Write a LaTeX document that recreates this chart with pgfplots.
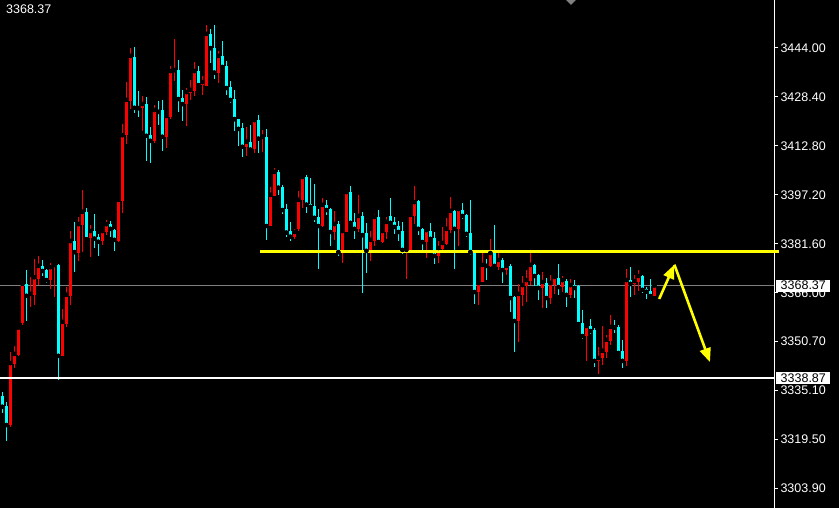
\documentclass[border=0pt]{standalone}
\usepackage{fontspec}
\setmainfont{Liberation Sans}
\usepackage{pgfplots}
\pgfplotsset{compat=1.18}
\usepackage{pgfplotstable}
\usetikzlibrary{arrows.meta}

% bullish candles (red): index open high low close
\pgfplotstableread{
i O H L C
2 3324.0 3347.2 3323.5 3343.7
3 3343.5 3349.1 3342.1 3346.6
4 3346.3 3355.5 3346.0 3355.0
5 3356.4 3369.6 3355.8 3368.9
7 3365.1 3371.0 3361.6 3365.7
8 3365.4 3376.7 3362.2 3371.0
9 3370.5 3377.8 3368.5 3374.6
12 3370.1 3375.4 3367.2 3374.2
13 3374.4 3375.6 3364.8 3374.9
15 3346.0 3360.8 3346.0 3356.8
16 3356.1 3367.8 3355.3 3365.4
17 3365.1 3385.6 3362.2 3382.5
19 3378.8 3390.1 3376.3 3387.9
20 3387.6 3398.8 3379.1 3391.8
22 3383.6 3387.6 3377.5 3385.7
25 3382.6 3386.0 3381.3 3385.7
26 3385.3 3389.2 3384.4 3387.9
29 3382.6 3395.9 3382.3 3395.6
30 3395.3 3419.7 3391.3 3416.2
31 3416.2 3433.1 3413.4 3427.4
32 3427.1 3443.9 3424.4 3441.4
35 3424.9 3428.6 3417.6 3426.1
38 3414.4 3425.8 3413.8 3424.2
41 3415.7 3422.8 3412.2 3422.3
42 3422.1 3438.2 3421.3 3436.6
43 3436.3 3446.8 3433.4 3436.9
46 3426.1 3431.1 3419.2 3429.9
47 3429.6 3433.7 3427.4 3430.6
48 3430.2 3439.5 3428.6 3436.6
50 3432.1 3435.0 3429.0 3433.1
51 3431.8 3451.2 3431.8 3448.4
54 3436.1 3443.0 3432.9 3441.4
61 3412.5 3418.9 3409.6 3414.1
63 3411.9 3421.3 3410.4 3421.0
65 3415.1 3417.8 3410.9 3415.7
67 3387.3 3399.7 3387.3 3397.2
68 3396.9 3405.7 3396.9 3404.5
73 3383.9 3386.4 3383.3 3385.4
74 3386.4 3398.4 3385.7 3395.6
75 3395.5 3403.2 3392.9 3402.9
80 3387.3 3396.2 3387.0 3394.0
83 3385.4 3392.1 3382.9 3387.9
85 3379.4 3386.0 3375.5 3385.7
86 3385.4 3398.8 3385.4 3398.1
89 3386.4 3397.2 3385.4 3390.5
92 3379.4 3385.7 3376.2 3382.9
93 3382.5 3391.1 3380.9 3390.2
95 3382.2 3386.4 3381.9 3385.7
96 3385.4 3390.2 3383.2 3388.6
101 3379.4 3380.0 3370.5 3379.7
102 3379.4 3391.4 3379.4 3390.8
103 3390.5 3400.0 3387.9 3394.9
106 3382.2 3386.0 3377.1 3386.0
109 3377.8 3382.5 3375.5 3380.3
110 3380.0 3387.0 3379.0 3381.9
111 3381.6 3389.9 3381.3 3386.4
112 3386.0 3396.5 3385.1 3392.1
114 3386.4 3393.0 3380.9 3392.7
119 3366.3 3369.5 3362.2 3369.2
120 3369.5 3379.7 3369.5 3374.9
122 3374.6 3383.2 3374.3 3378.7
124 3374.3 3378.7 3373.3 3376.5
126 3373.3 3375.2 3371.7 3374.6
129 3357.1 3368.9 3350.4 3365.7
130 3365.4 3371.4 3361.9 3368.5
131 3368.2 3373.3 3363.1 3370.1
132 3369.8 3378.7 3368.5 3374.9
135 3367.6 3372.7 3361.2 3369.5
137 3364.4 3371.7 3362.5 3369.2
138 3368.5 3371.7 3365.7 3371.1
140 3367.9 3371.4 3366.3 3370.1
142 3365.4 3370.5 3364.4 3368.5
146 3352.3 3356.1 3344.4 3355.5
149 3344.4 3348.8 3340.2 3345.3
150 3345.3 3355.5 3343.1 3347.6
151 3347.2 3352.6 3345.3 3351.1
152 3350.7 3359.0 3349.5 3355.2
156 3344.4 3373.6 3342.8 3370.1
158 3368.9 3371.7 3365.4 3369.8
159 3369.5 3373.3 3366.6 3371.4
163 3365.0 3369.2 3365.0 3368.37
}\bull

% bearish candles (cyan): index open high low close
\pgfplotstableread{
i O H L C
0 3333.2 3334.5 3327.8 3329.8
1 3330.1 3331.3 3319.0 3324.0
6 3368.9 3373.3 3357.2 3365.1
10 3374.6 3376.5 3371.4 3373.0
11 3373.3 3373.5 3369.1 3370.1
14 3374.9 3375.2 3338.3 3346.0
18 3382.5 3388.6 3372.8 3379.0
21 3391.8 3393.0 3382.6 3383.1
23 3385.7 3391.1 3380.4 3383.3
24 3383.9 3384.8 3377.9 3382.3
27 3387.9 3388.9 3383.9 3386.4
28 3386.0 3386.4 3379.5 3382.9
33 3441.0 3444.2 3423.3 3424.9
34 3425.2 3430.2 3422.1 3424.8
36 3426.1 3428.3 3408.1 3416.0
37 3416.2 3418.8 3407.4 3414.4
39 3424.2 3427.1 3419.4 3423.6
40 3424.2 3427.4 3411.3 3415.7
44 3436.9 3440.1 3423.6 3427.7
45 3428.0 3430.6 3420.8 3426.1
49 3436.6 3438.2 3431.6 3432.1
52 3448.4 3449.9 3439.2 3443.9
53 3443.9 3451.2 3434.1 3436.1
55 3441.4 3446.1 3437.5 3437.9
56 3438.2 3439.8 3429.0 3431.2
57 3431.5 3433.4 3426.5 3427.4
58 3427.7 3430.6 3417.6 3421.3
59 3421.5 3421.5 3412.7 3418.2
60 3418.6 3420.0 3409.3 3412.5
62 3414.0 3419.4 3411.6 3411.6
64 3421.0 3422.6 3410.6 3415.1
66 3415.6 3418.2 3382.9 3387.3
69 3404.5 3405.1 3397.3 3399.5
70 3399.7 3400.3 3391.1 3392.4
71 3392.7 3394.3 3383.9 3385.2
72 3385.7 3388.6 3382.6 3383.9
76 3402.9 3403.5 3391.5 3394.1
77 3394.3 3402.6 3393.1 3393.4
78 3393.7 3400.7 3388.7 3389.9
79 3390.2 3392.7 3373.6 3387.3
81 3394.0 3395.6 3390.8 3392.4
82 3392.7 3393.0 3380.9 3385.4
84 3387.9 3388.9 3377.8 3379.0
87 3398.1 3400.0 3387.9 3388.3
88 3388.6 3391.4 3383.2 3386.4
90 3390.5 3391.8 3366.0 3384.4
91 3385.1 3388.3 3372.4 3379.4
94 3390.2 3392.4 3381.9 3382.2
97 3390.5 3396.2 3388.3 3388.3
98 3388.6 3390.2 3384.8 3387.0
99 3387.3 3388.9 3382.5 3385.4
100 3385.7 3388.6 3378.4 3379.7
104 3395.3 3395.6 3384.4 3386.4
105 3386.4 3386.7 3379.4 3382.2
107 3385.7 3388.3 3382.5 3383.2
108 3383.5 3385.4 3375.2 3377.8
113 3392.1 3392.4 3373.6 3386.4
115 3392.4 3394.6 3389.5 3390.5
116 3390.8 3391.1 3383.8 3384.8
117 3385.1 3395.6 3378.1 3379.0
118 3378.7 3379.0 3362.5 3366.3
121 3375.2 3376.8 3370.1 3374.6
123 3379.0 3387.6 3374.3 3374.6
125 3376.5 3377.1 3369.2 3373.3
127 3374.6 3375.2 3360.0 3364.4
128 3364.7 3365.0 3347.2 3357.1
133 3374.9 3375.2 3368.2 3371.4
134 3371.7 3372.0 3363.8 3367.6
136 3369.2 3370.8 3361.2 3364.4
139 3370.8 3375.2 3365.4 3367.9
141 3369.8 3370.5 3361.5 3365.4
143 3368.5 3370.1 3364.4 3367.6
144 3368.2 3368.5 3355.8 3356.1
145 3356.5 3360.6 3351.4 3352.3
147 3355.5 3357.7 3353.0 3353.9
148 3354.2 3354.9 3342.5 3344.4
153 3355.2 3357.4 3353.3 3355.0
154 3355.2 3355.8 3346.3 3346.9
155 3347.6 3351.1 3342.1 3344.4
157 3370.1 3374.2 3364.8 3368.9
160 3371.4 3371.7 3366.1 3367.0
161 3367.3 3367.9 3364.1 3366.4
162 3366.6 3370.5 3364.4 3365.0
}\bear

\definecolor{bullc}{RGB}{255,0,0}
\definecolor{bearc}{RGB}{0,255,255}
\definecolor{bidgray}{RGB}{128,128,128}
\definecolor{mtyellow}{RGB}{255,255,0}

\pgfplotsset{
  wick/.style={only marks, mark=none,
    error bars/.cd, y dir=both, y explicit, error mark=none,
    error bar style={line width=1pt, #1}},
  body/.style={only marks, mark=none,
    error bars/.cd, y dir=both, y explicit, error mark=none,
    error bar style={line width=3.2pt, #1}},
}

\begin{document}
\begin{tikzpicture}
\useasboundingbox (0,0) rectangle (839pt,508pt);
\fill[black] (0,0) rectangle (839pt,508pt);
\begin{axis}[
  at={(0pt,0pt)}, anchor=south west,
  scale only axis, width=774pt, height=508pt,
  xmin=-0.575, xmax=192.9, ymin=3297.6, ymax=3459.2,
  axis x line=none, axis y line*=right,
  y axis line style={white, line width=1pt},
  ytick={3444.00,3428.40,3412.80,3397.20,3381.60,3366.00,3350.70,3335.10,3319.50,3303.90},
  yticklabels={3444.00,3428.40,3412.80,3397.20,3381.60,3366.00,3350.70,3335.10,3319.50,3303.90},
  tick align=outside, major tick length=4pt,
  y tick style={white, line width=1pt},
  yticklabel style={text=white, font=\fontsize{12.5}{13}\selectfont, anchor=west, xshift=-1pt},
  clip=false,
]
% bid line (behind candles)
\addplot[bidgray, line width=1pt] coordinates {(-0.575,3368.37) (192.9,3368.37)};

% wicks
\addplot[wick=bullc] table[x=i, y=C,
  y error plus expr={\thisrow{H}-\thisrow{C}},
  y error minus expr={\thisrow{C}-\thisrow{L}}] {\bull};
\addplot[wick=bearc] table[x=i, y=C,
  y error plus expr={\thisrow{H}-\thisrow{C}},
  y error minus expr={\thisrow{C}-\thisrow{L}}] {\bear};
% bodies
\addplot[body=bullc] table[x=i, y=C,
  y error plus expr={0},
  y error minus expr={\thisrow{C}-\thisrow{O}}] {\bull};
\addplot[body=bearc] table[x=i, y=C,
  y error plus expr={\thisrow{O}-\thisrow{C}},
  y error minus expr={0}] {\bear};

% horizontal levels
\addplot[white, line width=2pt] coordinates {(-0.575,3338.87) (192.9,3338.87)};
\addplot[mtyellow, line width=3pt] coordinates {(64.4,3379.1) (194.2,3379.1)};

% arrows
\draw[mtyellow, line width=2.6pt, -{Triangle[length=14pt,width=11pt]}]
  (axis cs:164.2,3364.1) -- (axis cs:168.0,3375.0);
\draw[mtyellow, line width=2.6pt, -{Triangle[length=14pt,width=11pt]}]
  (axis cs:168.0,3375.0) -- (axis cs:176.9,3344.0);

% top border
\draw[white, line width=1pt] (rel axis cs:0,1) -- (rel axis cs:1,1);

\coordinate (bid) at (axis cs:192.9,3368.37);
\coordinate (lvl) at (axis cs:192.9,3338.87);
\end{axis}

% price boxes on the scale
\node[fill=white, text=black, anchor=west, inner xsep=4.5pt, inner ysep=0pt,
  minimum height=12pt, font=\fontsize{12.5}{13}\selectfont] at ([xshift=2pt]bid) {3368.37};
\node[fill=white, text=black, anchor=west, inner xsep=4.5pt, inner ysep=0pt,
  minimum height=12pt, font=\fontsize{12.5}{13}\selectfont] at ([xshift=2pt]lvl) {3338.87};

% top-left price text
\node[text=white, anchor=base west, inner sep=0pt, font=\fontsize{12.5}{13}\selectfont]
  at (6pt,494pt) {3368.37};

% chart shift marker
\fill[bidgray] (566pt,508pt) -- (576pt,508pt) -- (571pt,503pt) -- cycle;
\end{tikzpicture}
\end{document}
